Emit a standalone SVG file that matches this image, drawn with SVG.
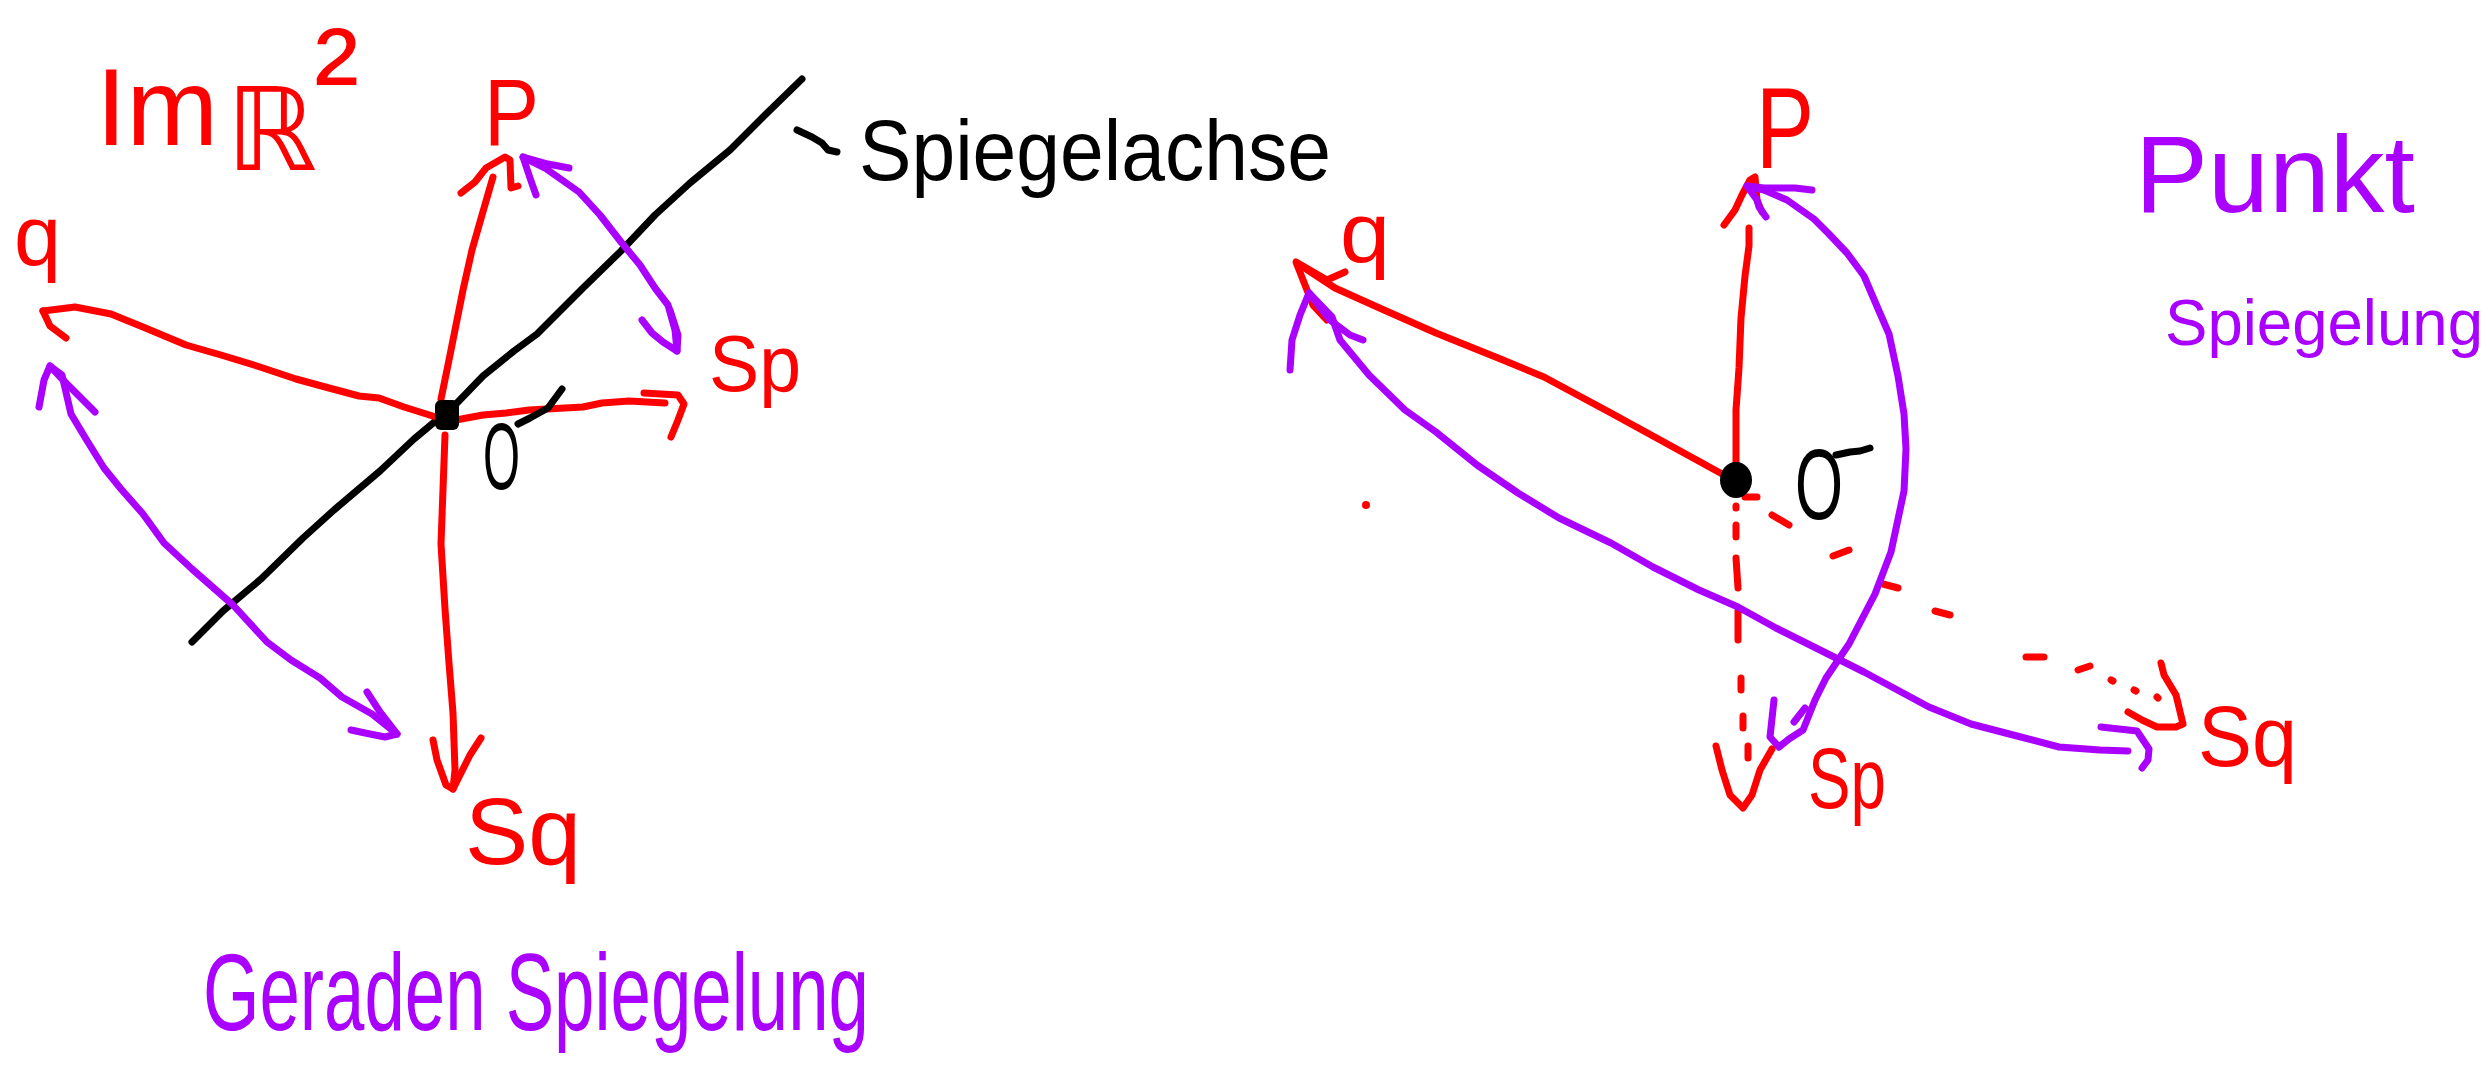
<svg xmlns="http://www.w3.org/2000/svg" width="2490" height="1070" viewBox="0 0 2490 1070">
<style>
  path, polyline { fill: none; stroke-width: 7; stroke-linecap: round; stroke-linejoin: round; }
  .r { stroke: #FF0000; }
  .v { stroke: #AA00FF; }
  .k { stroke: #000000; }
  text { font-family: "Liberation Sans", "DejaVu Sans", sans-serif; }
  .tr { fill: #FF0000; }
  .tv { fill: #AA00FF; }
  .tk { fill: #000000; }
</style>
<rect x="0" y="0" width="2490" height="1070" fill="#FFFFFF"/>

<g id="connectors">
  <!-- LEFT: mirror axis -->
  <path id="axis" class="k" d="M192,642 L223,611 L261,579 L303,538 L334,510 L380,471 L414,439 L456,404 L483,376 L514,351 L537,334 L583,288 L621,251 L655,215 L690,183 L730,150 L765,115 L802,79"/>
  <path id="axis-leader" class="k" d="M797,130 L812,137 L822,143 L828,150 L837,152"/>
  <!-- LEFT: O -> P -->
  <path class="r" d="M441,399 L448,365 L455,330 L463,290 L472,250 L482,215 L493,177"/>
  <path class="r" d="M461,193 L475,182 L486,168 L505,157 L510,160 L511,188 L518,186"/>
  <!-- LEFT: O -> q -->
  <path class="r" d="M439,418 L404,407 L379,398 L359,396 L329,388 L296,379 L257,366 L221,355 L186,345 L143,327 L111,314 L75,307 L43,311"/>
  <path class="r" d="M43,311 L50,326 L66,338"/>
  <!-- LEFT: O -> Sp -->
  <path class="r" d="M456,420 L483,415 L506,413 L529,410 L583,407 L602,403 L629,401 L665,403"/>
  <path class="r" d="M644,393 L678,395 L684,404 L678,420 L671,437"/>
  <!-- LEFT: O -> Sq -->
  <path class="r" d="M445,435 L441,544 L445,609 L449,663 L453,713 L455,770 L453,789"/>
  <path class="r" d="M433,740 L437,760 L446,785 L453,789 L460,775 L470,755 L481,738"/>
  <!-- LEFT: P <-> Sp reflection arc -->
  <path class="v" d="M523,157 L545,168 L579,192 L600,215 L621,242 L640,265 L655,288 L668,305 L675,330 L677,351"/>
  <path class="v" d="M569,168 L548,164 L523,157 L530,178 L536,195"/>
  <path class="v" d="M642,320 L652,333 L663,342 L677,351 L678,335 L670,310"/>
  <!-- LEFT: q <-> Sq reflection arc -->
  <path class="v" d="M50,366 L62,375 L71,414 L86,439 L104,468 L121,489 L143,514 L164,543 L192,569 L233,605 L267,642 L291,660 L320,678 L342,697 L372,714 L397,734"/>
  <path class="v" d="M39,407 L44,380 L50,366 L65,382 L95,412"/>
  <path class="v" d="M367,692 L380,712 L397,734 L385,737 L370,734 L351,730"/>

  <!-- RIGHT: O -> P -->
  <path class="r" d="M1736,464 L1736,410 L1739,368 L1741,318 L1745,276 L1749,246 L1749,228"/>
  <path class="r" d="M1724,225 L1735,210 L1742,195 L1750,180 L1755,177 L1757,200 L1762,212"/>
  <!-- RIGHT: O -> q -->
  <path class="r" d="M1724,475 L1673,447 L1611,413 L1544,377 L1503,360 L1436,333 L1384,310 L1335,288 L1300,265"/>
  <path class="r" d="M1345,272 L1327,280 L1296,262 L1305,285 L1313,305 L1327,320"/>
  <!-- RIGHT: O -> Sp (dashed) -->
  <path class="r" d="M1736,506 L1736,508 M1736,525 L1736,537 M1736,558 L1738,588 M1738,611 L1738,640 M1741,678 L1741,690 M1743,716 L1743,728 M1748,746 L1748,758"/>
  <path class="r" d="M1716,746 L1722,770 L1730,795 L1743,808 L1752,795 L1760,770 L1772,749"/>
  <!-- RIGHT: O -> Sq (dotted) -->
  <path class="r" d="M1745,497 L1757,497 M1772,515 L1789,525 M1833,556 L1849,550 M1883,584 L1898,588 M1935,611 L1950,615 M2026,657 L2044,657 M2078,670 L2090,666 M2111,680 L2113,681 M2134,690 L2136,691 M2157,697 L2158,698"/>
  <path class="r" d="M2161,663 L2164,675 L2176,695 L2183,724 L2176,727 L2157,727 L2142,720 L2128,712"/>
  <!-- RIGHT: P <-> Sp reflection arc -->
  <path class="v" d="M1747,186 L1764,190 L1787,200 L1814,219 L1829,234 L1847,253 L1864,276 L1879,311 L1889,334 L1898,376 L1904,414 L1906,449 L1904,491 L1891,552 L1875,594 L1849,644 L1826,678 L1815,700 L1803,730 L1789,739 L1779,747"/>
  <path class="v" d="M1812,190 L1795,188 L1764,188 L1747,186 L1757,200 L1759,207 L1766,217"/>
  <path class="v" d="M1774,700 L1770,737 L1779,747"/>
  <path class="v" d="M1794,722 L1805,708"/>
  <!-- RIGHT: q <-> Sq reflection arc -->
  <path class="v" d="M1309,293 L1332,317 L1340,340 L1369,375 L1405,410 L1436,432 L1477,465 L1518,493 L1559,518 L1611,543 L1653,567 L1699,590 L1738,607 L1776,628 L1818,649 L1864,672 L1929,707 L1971,724 L2017,736 L2059,747 L2100,750 L2128,751"/>
  <path class="v" d="M1290,370 L1292,340 L1300,315 L1309,293 L1330,320 L1350,335 L1363,340"/>
  <path class="v" d="M2101,727 L2137,731 L2149,749 L2148,760 L2142,768"/>
</g>

<g id="title-left">
  <text class="tr" x="96" y="145" font-size="110">Im<tspan x="226" y="170" font-family="DejaVu Sans, sans-serif" font-size="115">ℝ</tspan><tspan x="314" y="122" font-size="135">²</tspan></text>
</g>

<g id="origin-left">
  <rect x="435" y="400" width="24" height="30" rx="6" fill="#000000"/>
  <path class="k" d="M562,389 L548,408 L530,418 L518,424"/>
  <text class="tk" x="483" y="489" font-size="95" textLength="37" lengthAdjust="spacingAndGlyphs">O</text>
</g>

<g id="label-P-left">
  <text class="tr" x="484" y="145" font-size="95" textLength="55" lengthAdjust="spacingAndGlyphs">P</text>
</g>
<g id="label-q-left">
  <text class="tr" x="14" y="265" font-size="85" textLength="47" lengthAdjust="spacingAndGlyphs">q</text>
</g>
<g id="label-Sp-left">
  <text class="tr" x="709" y="391" font-size="80" textLength="92" lengthAdjust="spacingAndGlyphs">Sp</text>
</g>
<g id="label-Sq-left">
  <text class="tr" x="465" y="864" font-size="95" textLength="116" lengthAdjust="spacingAndGlyphs">Sq</text>
</g>
<g id="label-axis">
  <text class="tk" x="859" y="180" font-size="85" textLength="472" lengthAdjust="spacingAndGlyphs">Spiegelachse</text>
</g>
<g id="caption-left">
  <text class="tv" x="203" y="1030" font-size="110" textLength="666" lengthAdjust="spacingAndGlyphs">Geraden Spiegelung</text>
</g>

<g id="origin-right">
  <ellipse cx="1736" cy="480" rx="16" ry="18" fill="#000000"/>
  <path class="k" d="M1836,455 L1850,452 L1860,451 L1870,448"/>
  <text class="tk" x="1795" y="519" font-size="100" textLength="48" lengthAdjust="spacingAndGlyphs">O</text>
</g>
<g id="label-P-right">
  <text class="tr" x="1756" y="168" font-size="115" textLength="58" lengthAdjust="spacingAndGlyphs">P</text>
</g>
<g id="label-q-right">
  <text class="tr" x="1340" y="262" font-size="85" textLength="50" lengthAdjust="spacingAndGlyphs">q</text>
</g>
<g id="label-Sp-right">
  <text class="tr" x="1808" y="808" font-size="85" textLength="78" lengthAdjust="spacingAndGlyphs">Sp</text>
</g>
<g id="label-Sq-right">
  <text class="tr" x="2198" y="766" font-size="85" textLength="99" lengthAdjust="spacingAndGlyphs">Sq</text>
</g>
<g id="stray-dot">
  <circle cx="1366" cy="505" r="4" fill="#FF0000"/>
</g>
<g id="caption-right">
  <text class="tv" x="2135" y="212" font-size="110" textLength="280" lengthAdjust="spacingAndGlyphs">Punkt</text>
  <text class="tv" x="2165" y="345" font-size="64" textLength="318" lengthAdjust="spacingAndGlyphs">Spiegelung</text>
</g>
</svg>
